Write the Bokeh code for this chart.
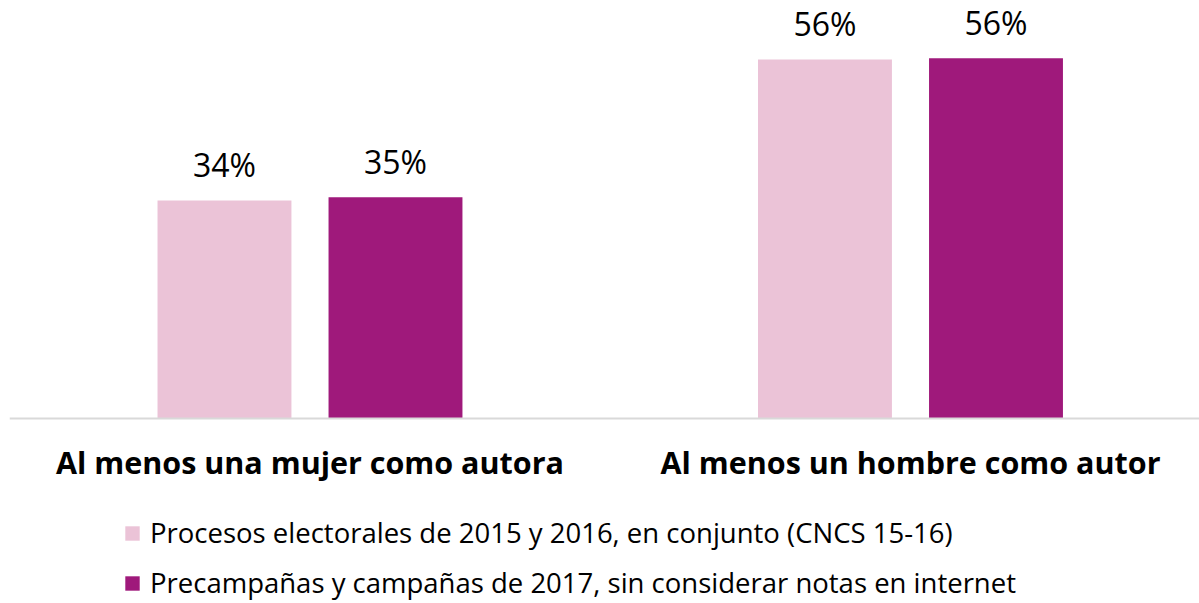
from bokeh.plotting import figure
from bokeh.models import Range1d, ColumnDataSource, Legend, LegendItem, Span
from bokeh.transform import dodge
from bokeh.embed import file_html
from bokeh.resources import INLINE
from bokeh.core.properties import value

groups = ["Al menos una mujer como autora", "Al menos un hombre como autor"]
series = [
    "Procesos electorales de 2015 y 2016, en conjunto (CNCS 15-16)",
    "Precampañas y campañas de 2017, sin considerar notas en internet",
]
vals_2015_16 = [34.0, 56.0]
vals_2017 = [34.5, 56.2]
labels_2015_16 = ["34%", "56%"]
labels_2017 = ["35%", "56%"]
colors = ["#EBC3D7", "#9F197B"]

src = ColumnDataSource(dict(
    gi=list(range(len(groups))),
    grp=groups,
    a=vals_2015_16,
    b=vals_2017,
    la=labels_2015_16,
    lb=labels_2017,
))

FONT = "Open Sans"

p = figure(width=1199, height=603, output_backend="svg", toolbar_location=None,
           x_range=Range1d(-0.5004, 1.4813), y_range=Range1d(-28.86, 65.21),
           x_axis_type=None, y_axis_type=None,
           min_border_left=9, min_border_right=0, min_border_top=0, min_border_bottom=0)
p.grid.visible = False
p.outline_line_color = None
p.background_fill_color = "white"
p.border_fill_color = "white"

off = 0.1424
bw = 0.223
r1 = p.vbar(x=dodge("gi", -off, range=p.x_range), top="a", bottom=0, width=bw,
            source=src, fill_color=colors[0], line_color=None)
r2 = p.vbar(x=dodge("gi", off, range=p.x_range), top="b", bottom=0, width=bw,
            source=src, fill_color=colors[1], line_color=None)

p.add_layout(Span(location=0, dimension="width", line_color="#D9D9D9", line_width=2))

p.text(x=dodge("gi", -off, range=p.x_range), y="a", text="la", source=src,
       text_align="center", text_baseline="alphabetic", y_offset=-36,
       text_font=value(FONT), text_font_size="32px", text_color="#000000")
p.text(x=dodge("gi", off, range=p.x_range), y="b", text="lb", source=src,
       text_align="center", text_baseline="alphabetic", y_offset=-36,
       text_font=value(FONT), text_font_size="32px", text_color="#000000")

p.text(x="gi", y=0, text="grp", source=src, text_align="center",
       text_baseline="alphabetic", y_offset=43,
       text_font=value(FONT), text_font_size="30.5px", text_font_style="bold",
       text_color="#000000")

legend = Legend(items=[LegendItem(label=series[0], renderers=[r1]),
                       LegendItem(label=series[1], renderers=[r2])],
                orientation="vertical", location=(114, 2),
                glyph_width=18, glyph_height=18, label_standoff=9,
                spacing=13, padding=0, margin=0,
                label_text_font=FONT, label_text_font_size="27.5px",
                label_text_color="#000000",
                border_line_color=None, background_fill_alpha=0)
p.add_layout(legend)

open("out.html", "w").write(file_html(p, INLINE))
